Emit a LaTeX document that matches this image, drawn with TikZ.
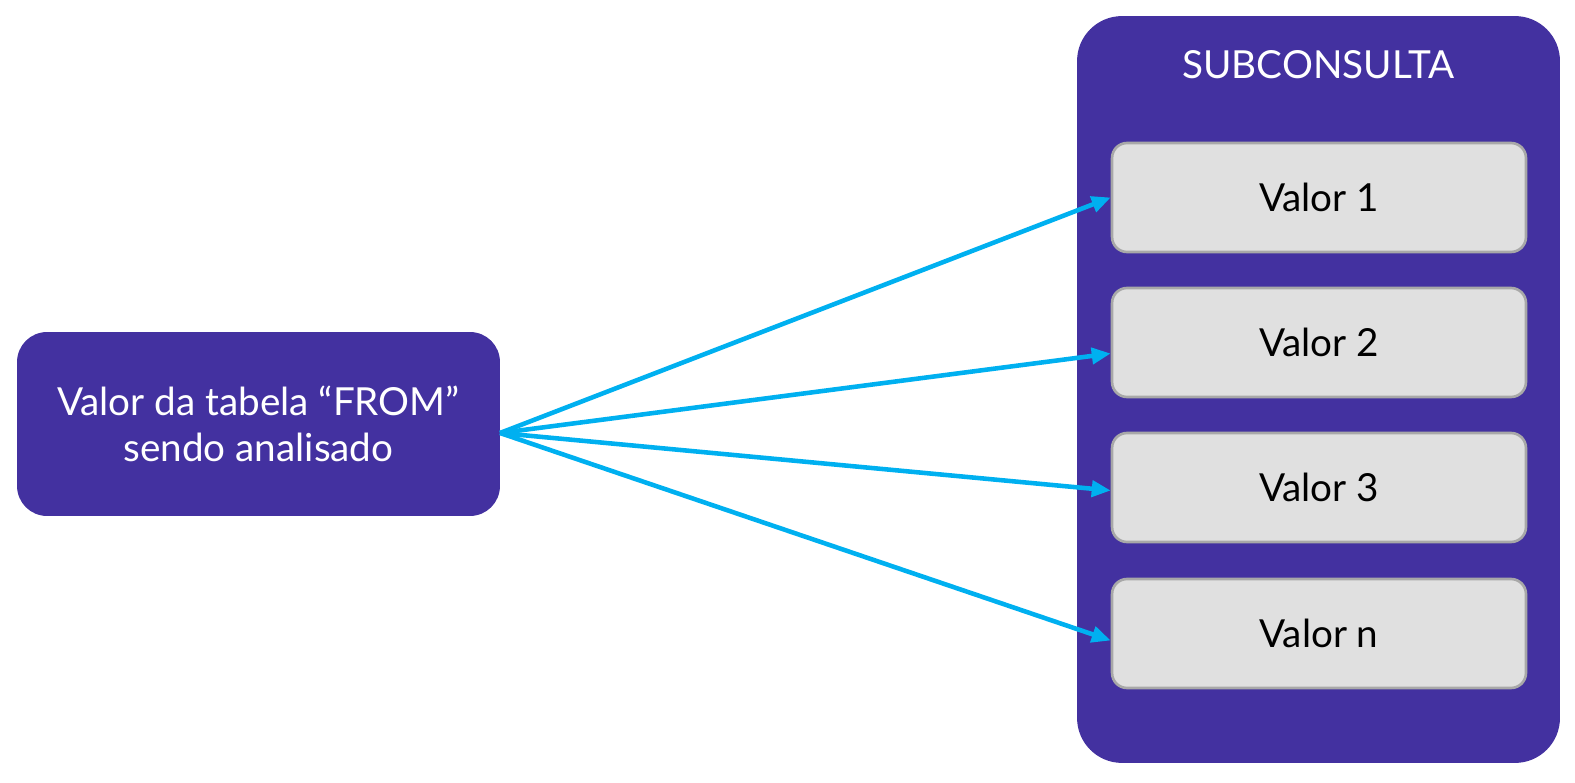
\documentclass[tikz,border=0pt]{standalone}
\usepackage{fontspec}
\setmainfont{Lato}
\usetikzlibrary{shapes,arrows,positioning,arrows.meta}
\definecolor{roxo}{HTML}{4331A0}
\definecolor{ciano}{HTML}{00B0F0}
\definecolor{cinza}{HTML}{E0E0E0}
\definecolor{borda}{HTML}{A8A8A8}
\tikzstyle{bloco} = [fill=roxo, text=white, font=\fontsize{22}{26}\selectfont, align=center, inner sep=0pt]
\tikzstyle{valor} = [draw=borda, line width=1.5pt, fill=cinza, rounded corners=0.3cm, minimum width=8.28cm, minimum height=2.18cm, font=\fontsize{22}{26}\selectfont, inner sep=0pt]
\tikzstyle{line} = [draw=ciano, line width=2.6pt, -{Triangle[length=0.38cm, width=0.32cm]}]

\begin{document}
\begin{tikzpicture}[x=0.02cm, y=-0.02cm]
    \useasboundingbox (0,0) rectangle (1575,783);

    % caixa da esquerda e a subconsulta
    \node[bloco, rounded corners=0.6cm, minimum width=9.66cm, minimum height=3.68cm] (origem) at (258.5,424) {Valor da tabela “FROM”\\sendo analisado};
    \node[bloco, rounded corners=0.9cm, minimum width=9.66cm, minimum height=14.94cm] (sub) at (1318.5,389.5) {};
    \node[text=white, font=\fontsize{22}{26}\selectfont] (titulo) at (1318.5,65) {SUBCONSULTA};

    \coordinate (saida) at (500,433);

    \foreach \i/\y/\nome/\dy in {1/197.5/1/0, 2/342.5/2/-0.22, 3/487.5/3/-0.06, 4/633.5/n/-0.14}
    {
        \node[valor] (v\i) at (1319,\y) {Valor \nome};
        \path[line] (saida) -- ([yshift=\dy cm]v\i.west);
    };
\end{tikzpicture}
\end{document}
